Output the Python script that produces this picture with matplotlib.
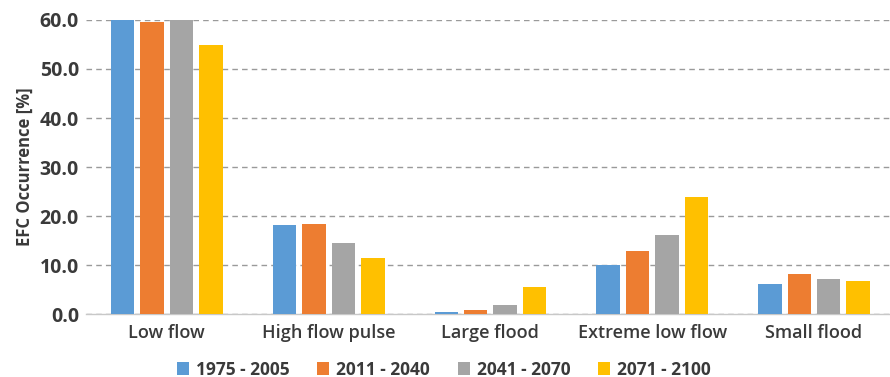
import numpy as np
import matplotlib
matplotlib.use("Agg")
import matplotlib.pyplot as plt

categories = ["Low flow", "High flow pulse", "Large flood", "Extreme low flow", "Small flood"]
periods = ["1975 - 2005", "2011 - 2040", "2041 - 2070", "2071 - 2100"]
p1975_2005 = [60.0, 18.2, 0.5, 10.0, 6.1]
p2011_2040 = [59.6, 18.4, 0.8, 12.9, 8.1]
p2041_2070 = [60.0, 14.4, 1.8, 16.1, 7.2]
p2071_2100 = [54.8, 11.4, 5.6, 23.8, 6.7]
series = [p1975_2005, p2011_2040, p2041_2070, p2071_2100]
colors = ["#5B9BD5", "#ED7D31", "#A5A5A5", "#FFC000"]

plt.rcParams["font.family"] = ["Open Sans", "DejaVu Sans"]
text_color = "#3a3a3a"

fig = plt.figure(figsize=(8.9, 3.77), dpi=100)
ax = fig.add_axes([0.0966, 0.167, 0.9034, 0.78])

x = np.arange(len(categories))
pitch = 0.182
width = 0.145
for i, (vals, c, lab) in enumerate(zip(series, colors, periods)):
    ax.bar(x + (i - 1.5) * pitch, vals, width=width, color=c, label=lab, zorder=3)

ax.set_ylim(0, 60)
ax.set_xlim(-0.5, 4.47)
ax.set_yticks(np.arange(0, 61, 10))
ax.set_yticklabels(["%.1f" % v for v in np.arange(0, 61, 10)],
                   fontsize=14, fontweight="bold", color=text_color)
ax.set_xticks(x)
ax.set_xticklabels(categories, fontsize=13, fontweight="semibold", color=text_color)
ax.tick_params(axis="both", length=0)
ax.tick_params(axis="x", pad=7)
ax.tick_params(axis="y", pad=5)

ax.yaxis.grid(True, linestyle=(0, (4, 3)), color="#9a9a9a", linewidth=1.0, zorder=0)
for s in ["top", "right", "left"]:
    ax.spines[s].set_visible(False)
ax.spines["bottom"].set_color("#c8c8c8")
ax.spines["bottom"].set_linewidth(1.0)

ax.set_ylabel("EFC Occurrence [%]", fontsize=12, fontweight="bold", color=text_color, labelpad=4)

leg = ax.legend(loc="upper center", bbox_to_anchor=(0.445, -0.105), ncol=4, frameon=False,
                handlelength=0.7, handleheight=0.7, handletextpad=0.4, columnspacing=1.6,
                prop={"size": 12.5, "weight": "bold"})
for t in leg.get_texts():
    t.set_color(text_color)

fig.savefig("out.png", dpi=100)
